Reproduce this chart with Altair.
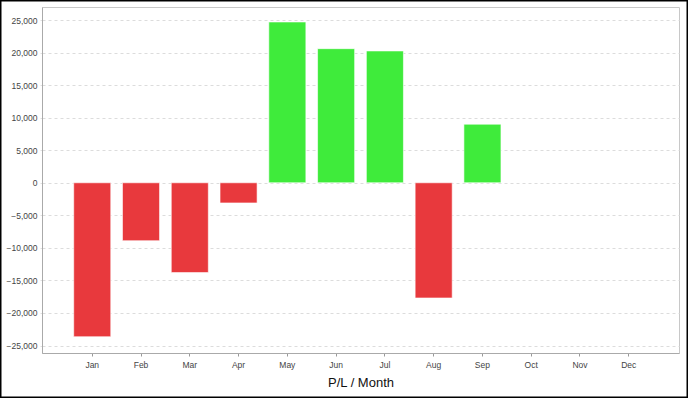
import altair as alt
import pandas as pd

months = ["Jan", "Feb", "Mar", "Apr", "May", "Jun", "Jul", "Aug", "Sep", "Oct", "Nov", "Dec"]
pl_values = [-23650, -8900, -13800, -3100, 24700, 20600, 20250, -17700, 9000, None, None, None]
y_ticks = [-25000, -20000, -15000, -10000, -5000, 0, 5000, 10000, 15000, 20000, 25000]

df = pd.DataFrame({"month": months, "pl": pl_values})
df["sign"] = ["pos" if (v is not None and v == v and v >= 0) else "neg" for v in df["pl"]]

W, H = 637, 346
PAD = {"left": 42, "top": 7, "right": 9, "bottom": 45}

bars = alt.Chart(df).mark_bar(stroke="white", strokeWidth=1, strokeOpacity=0.6).encode(
    x=alt.X("month:N", sort=months,
            scale=alt.Scale(domain=months, paddingInner=0.24, paddingOuter=0.65),
            axis=alt.Axis(title="P/L / Month", labelAngle=0, labelFontSize=8.5, labelColor="#444",
                          labelFont="Liberation Sans", titleFont="Liberation Sans",
                          titleFontSize=13, titleFontWeight="normal", titleColor="#111",
                          titlePadding=8, labelPadding=4,
                          tickSize=3, tickColor="#999", domainColor="#aaa", grid=False)),
    y=alt.Y("pl:Q",
            scale=alt.Scale(domain=[-26150, 27000], nice=False, zero=False),
            axis=alt.Axis(title=None, values=y_ticks, format=",.0f", labelFontSize=8.5, labelColor="#444",
                          labelFont="Liberation Sans", labelPadding=3,
                          tickSize=2, tickColor="#e0e0e0", domainColor="#aaa",
                          grid=True, gridColor="#dcdcdc", gridDash=[3, 3])),
    color=alt.Color("sign:N", scale=alt.Scale(domain=["neg", "pos"], range=["#E8393D", "#3FEB3B"]),
                    legend=None),
)

border = alt.Chart(alt.Data(values=[{"a": 1}])).mark_rect(
    fill=None, stroke="black", strokeWidth=1.5
).encode(
    x=alt.value(-PAD["left"] + 0.75), x2=alt.value(W + PAD["right"] - 0.75),
    y=alt.value(-PAD["top"] + 0.75), y2=alt.value(H + PAD["bottom"] - 0.75),
)

chart = alt.layer(bars, border).properties(
    width=W, height=H, padding=PAD,
    autosize=alt.AutoSizeParams(type="none"),
    background="white",
).configure_view(stroke="#c8c8c8", strokeWidth=1)

chart.save("out.html", embed_options={"renderer": "svg", "actions": False})
